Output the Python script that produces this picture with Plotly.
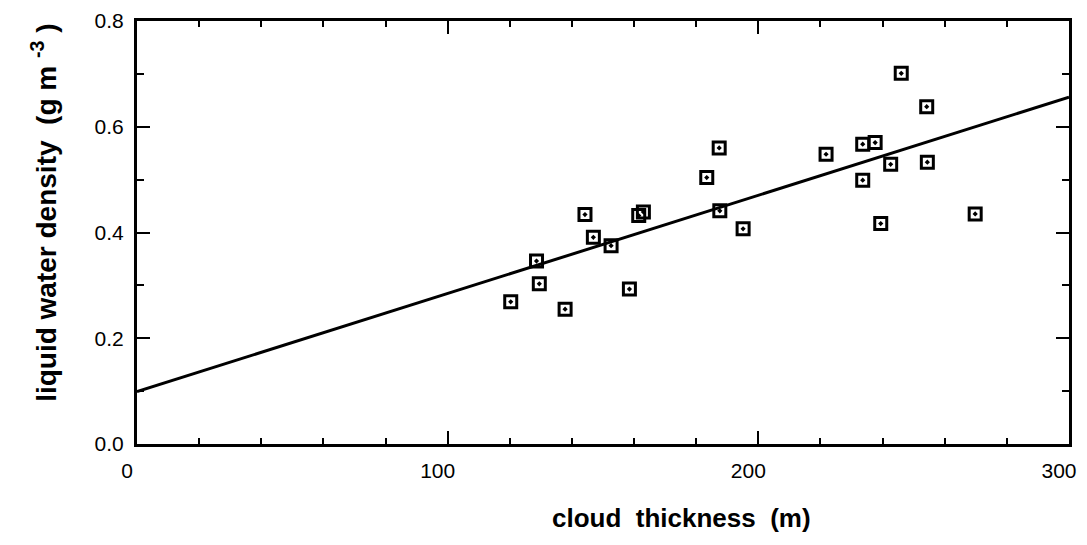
import plotly.graph_objects as go

thickness = [120.3, 128.6, 129.5, 137.8, 144.2, 146.9, 152.6, 158.5, 161.5, 163.0,
             183.4, 187.4, 187.6, 195.1, 221.8, 233.6, 233.6, 237.6, 239.4, 242.6,
             246.0, 254.2, 254.4, 269.8]
lwd = [0.269, 0.346, 0.303, 0.255, 0.434, 0.391, 0.375, 0.293, 0.432, 0.439,
       0.504, 0.560, 0.441, 0.407, 0.548, 0.567, 0.499, 0.570, 0.417, 0.529,
       0.701, 0.638, 0.533, 0.435]
fit_x = [0, 300]
fit_y = [0.099, 0.656]

x_ticks = [0, 100, 200, 300]
x_ticklabels = ["0", "100", "200", "300"]
y_ticks = [0.0, 0.2, 0.4, 0.6, 0.8]
y_ticklabels = ["0.0", "0.2", "0.4", "0.6", "0.8"]
x_title = "cloud  thickness  (m)"
y_title = "liquid water density  (g m <sup>-3</sup> )"

fig = go.Figure()
fig.add_trace(go.Scatter(x=fit_x, y=fit_y, mode="lines",
                         line=dict(color="black", width=3), showlegend=False))
fig.add_trace(go.Scatter(x=thickness, y=lwd, mode="markers",
                         marker=dict(symbol="square-open-dot", size=12, color="black",
                                     line=dict(color="black", width=3)),
                         showlegend=False))

FONT = "Liberation Sans, Arial, sans-serif"
axis_common = dict(showline=True, linecolor="black", linewidth=3, mirror="ticks",
                   ticks="inside", ticklen=13, tickwidth=2, tickcolor="black",
                   showgrid=False, zeroline=False, ticklabeloverflow="allow",
                   tickfont=dict(family=FONT, size=21, color="black"))

fig.update_xaxes(range=[0, 300], tickmode="array", tickvals=x_ticks,
                 ticktext=x_ticklabels,
                 ticklabelstandoff=6, ticklabelshift=-10,
                 minor=dict(dtick=20, tick0=0, ticks="inside", ticklen=6, tickwidth=2,
                            tickcolor="black"),
                 **axis_common)
fig.update_yaxes(range=[0, 0.8], tickmode="array", tickvals=y_ticks,
                 ticktext=y_ticklabels, ticklabelstandoff=6,
                 minor=dict(dtick=0.1, tick0=0, ticks="inside", ticklen=7, tickwidth=2,
                            tickcolor="black"),
                 **axis_common)

fig.add_annotation(text=x_title, xref="paper", yref="paper", x=0.584, y=-0.175,
                   xanchor="center", yanchor="middle", showarrow=False,
                   font=dict(family=FONT, size=26, color="black", weight="bold"))
fig.add_annotation(text=y_title, xref="paper", yref="paper", x=-0.1, y=0.546,
                   xanchor="center", yanchor="middle", showarrow=False, textangle=-90,
                   font=dict(family=FONT, size=28, color="black", weight="bold"))

# page body has an 8px margin on every side; size the figure so it fits the window
fig.update_layout(width=1071, height=529, plot_bgcolor="white", paper_bgcolor="white",
                  margin=dict(l=129, r=10, t=13, b=93, autoexpand=False))
fig.write_html("out.html")
